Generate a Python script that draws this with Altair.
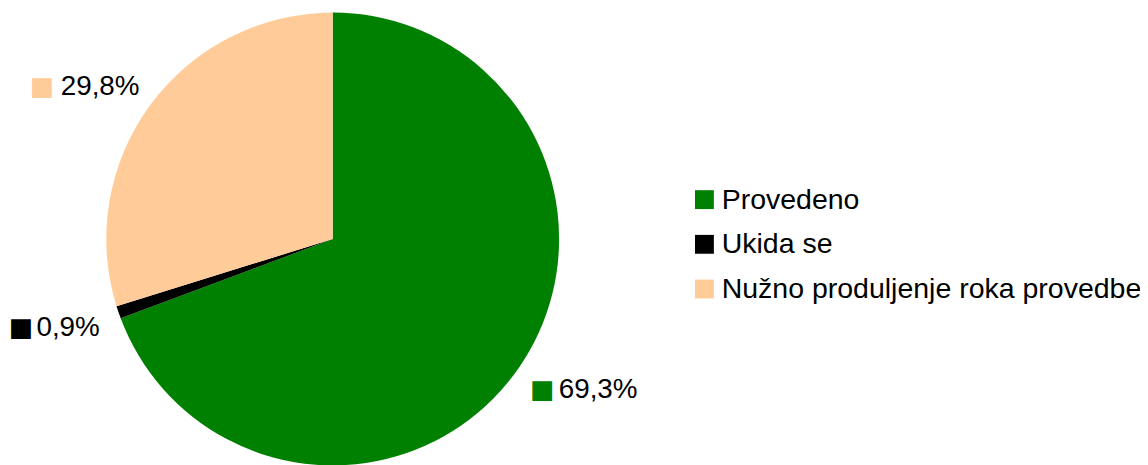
import altair as alt
import pandas as pd

categories = ["Provedeno", "Ukida se", "Nužno produljenje roka provedbe"]
values = [69.3, 0.9, 29.8]
labels = ["69,3%", "0,9%", "29,8%"]
colors = ["#008000", "#000000", "#ffcc99"]

df = pd.DataFrame({"cat": categories, "value": values, "label": labels,
                   "order": list(range(len(categories)))})
df["mid"] = df["value"].cumsum() - df["value"] / 2

theta_scale = alt.Scale(domain=[0, 100])
color_scale = alt.Scale(domain=categories, range=colors)

base = alt.Chart(df)

pie = base.mark_arc(outerRadius=228).encode(
    theta=alt.Theta("value:Q", stack=True, scale=theta_scale),
    color=alt.Color("cat:N", scale=color_scale, sort=categories,
                    legend=alt.Legend(title=None, orient="none", legendX=687, legendY=177,
                                      symbolType="square", symbolSize=361,
                                      symbolStrokeWidth=0, labelFontSize=28.7,
                                      labelFont="Liberation Sans", labelColor="black",
                                      rowPadding=15, labelOffset=3, padding=0,
                                      labelLimit=800)),
    order=alt.Order("order:Q"),
)

R = 249
FS = 28
SQ_FS = 26

def label_layers(cat, side, tdx, tdy, sdx):
    sub = base.transform_filter(alt.datum.cat == cat)
    th = alt.Theta("mid:Q", stack=False, scale=theta_scale)
    txt = sub.mark_text(radius=R, align=side, baseline="middle", font="Liberation Sans",
                        fontSize=FS, color="black", dx=tdx, dy=tdy).encode(
        theta=th, text="label:N")
    sq = sub.mark_text(radius=R, align=side, baseline="middle", font="DejaVu Sans",
                       fontSize=SQ_FS, dx=sdx, dy=tdy, text="\u25a0").encode(
        theta=th, color=alt.Color("cat:N", scale=color_scale, legend=None))
    return [sq, txt]

layers = [pie]
layers += label_layers("Provedeno", "left", 23, 10, -6)
layers += label_layers("Ukida se", "right", 1, 9, -66)
layers += label_layers("Nužno produljenje roka provedbe", "right", 6, -5, -80)

chart = alt.layer(*layers).properties(
    width=654, height=462,
    autosize=alt.AutoSizeParams(type="none"),
    padding={"left": 0, "top": 0, "right": 486, "bottom": 0},
    background="white",
).configure_view(stroke=None)

chart.save("out.html", embed_options={"renderer": "svg", "actions": False})
